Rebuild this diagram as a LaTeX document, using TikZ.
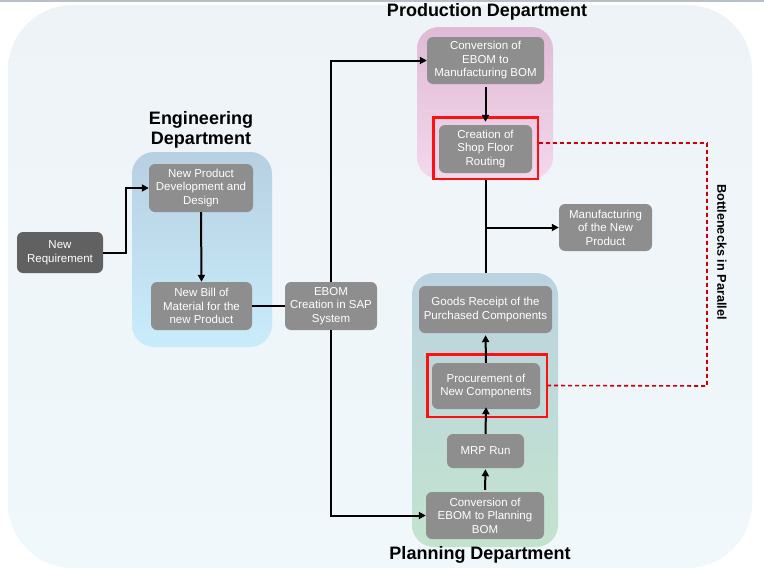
\documentclass[tikz,border=0pt]{standalone}
\usepackage{fontspec}
\setmainfont{Liberation Sans}
\usetikzlibrary{arrows.meta}
\definecolor{boxgray}{HTML}{8E8E8E}
\definecolor{darkbox}{HTML}{616161}
\definecolor{frameTop}{HTML}{EEF3F7}
\definecolor{frameBot}{HTML}{F0F8FC}
\definecolor{topline}{HTML}{B8BFCB}
\definecolor{pinkTop}{HTML}{DFBBD5}
\definecolor{pinkBot}{HTML}{F3D8EC}
\definecolor{engTop}{HTML}{B7D0E2}
\definecolor{engBot}{HTML}{C9ECFB}
\definecolor{planTop}{HTML}{BBD3E0}
\definecolor{planBot}{HTML}{C3E3CE}
\definecolor{sketchred}{HTML}{FF1010}
\definecolor{dashred}{HTML}{C8000A}
\tikzset{
  proc/.style={fill=boxgray, rounded corners=6pt, text=white, align=center,
    inner sep=0pt, font=\fontsize{11.5}{13.5}\selectfont},
  darkproc/.style={proc, fill=darkbox},
  title/.style={font=\bfseries\fontsize{18}{20}\selectfont, align=center, inner sep=0pt},
  flow/.style={line width=2pt, -{Triangle[length=7pt,width=7pt]}},
  plain/.style={line width=2pt},
  redbox/.style={draw=sketchred, line width=1.6pt, inner sep=0pt},
  bneck/.style={draw=dashred, line width=1.6pt, dash pattern=on 4pt off 3pt}
}
\begin{document}
\begin{tikzpicture}[x=1pt,y=-1pt]
\useasboundingbox (0,0) rectangle (764,573);
\fill[white] (0,0) rectangle (764,573);
\fill[topline] (0,0) rectangle (764,2);
% outer frame
\shade[top color=frameTop, bottom color=frameBot, rounded corners=65pt] (8,5) rectangle (752,568);
% department groups
\shade[top color=pinkTop, bottom color=pinkBot, rounded corners=22pt] (417,27) rectangle (553,179);
\shade[top color=engTop, bottom color=engBot, rounded corners=22pt] (132,152) rectangle (272,347);
\shade[top color=planTop, bottom color=planBot, rounded corners=22pt] (412,273) rectangle (558,547);
% titles
\node[title] (tprod) at (487,12) {Production Department};
\node[title] (teng) at (201,130) {Engineering\\Department};
\node[title] (tplan) at (480,555) {Planning Department};
\node[rotate=-90, font=\bfseries\fontsize{12.7}{14}\selectfont, inner sep=0pt] (tbn) at (722,252) {Bottlenecks in Parallel};
% nodes
\node[darkproc, minimum width=86pt, minimum height=41pt] (req) at (60,252.5) {New\\Requirement};
\node[proc, minimum width=104pt, minimum height=48pt] (npd) at (201,188) {New Product\\Development and\\Design};
\node[proc, minimum width=101pt, minimum height=48pt] (nbom) at (201.5,306) {New Bill of\\Material for the\\new Product};
\node[proc, minimum width=92pt, minimum height=48pt] (ebom) at (331,306) {EBOM\\Creation in SAP\\System};
\node[proc, minimum width=117pt, minimum height=47pt] (convM) at (485.5,60.5) {Conversion of\\EBOM to\\Manufacturing BOM};
\node[proc, minimum width=93pt, minimum height=48pt] (route) at (485.5,149) {Creation of\\Shop Floor\\Routing};
\node[proc, minimum width=93pt, minimum height=47pt] (manu) at (605.5,227.5) {Manufacturing\\of the New\\Product};
\node[proc, minimum width=133pt, minimum height=47pt] (goods) at (485.5,309.5) {Goods Receipt of the\\Purchased Components};
\node[proc, minimum width=108pt, minimum height=46pt] (procn) at (486,386) {Procurement of\\New Components};
\node[proc, minimum width=77pt, minimum height=34pt] (mrp) at (485.5,451) {MRP Run};
\node[proc, minimum width=118pt, minimum height=47pt] (convP) at (485,515.5) {Conversion of\\EBOM to Planning\\BOM};
% red sketch boxes
\node[redbox, minimum width=105pt, minimum height=62pt] (rb1) at (485.5,148) {};
\draw[sketchred, line width=0.8pt] (434.5,118.5) rectangle (537,178);
\node[redbox, minimum width=120pt, minimum height=63pt] (rb2) at (487,385.5) {};
\draw[sketchred, line width=0.8pt] (428.5,355.5) rectangle (546,416);
% coordinates
\coordinate (bend1) at (126,252.5);
\coordinate (ptop) at (486,273);
% connectors
\draw[flow] (req.east) -- (bend1) |- (npd.west);
\draw[flow] (npd.south) -- (nbom.north);
\draw[plain] (nbom.east) -- (ebom.west);
\draw[flow] (ebom.north) |- (convM.west);
\draw[flow] (ebom.south) |- (convP.west);
\draw[flow, shorten <=3pt, shorten >=3pt] (convM.south) -- (route.north);
\draw[plain] (rb1.south) -- (rb1.south |- ptop);
\draw[flow] (rb1.south |- manu.west) -- (manu.west);
\draw[flow, shorten <=2pt, shorten >=1pt] (convP.north) -- (mrp.south);
\draw[flow, shorten >=-2pt] (mrp.north) -- (procn.south);
\draw[flow, shorten >=2pt] (procn.north) -- (goods.south);
% bottleneck dashed link
\coordinate (bn1) at (707,143);
\coordinate (bn2) at (707,386);
\draw[bneck] ([yshift=5pt]rb1.east) -- (bn1) -- (bn2) -- (rb2.east);
\end{tikzpicture}
\end{document}
